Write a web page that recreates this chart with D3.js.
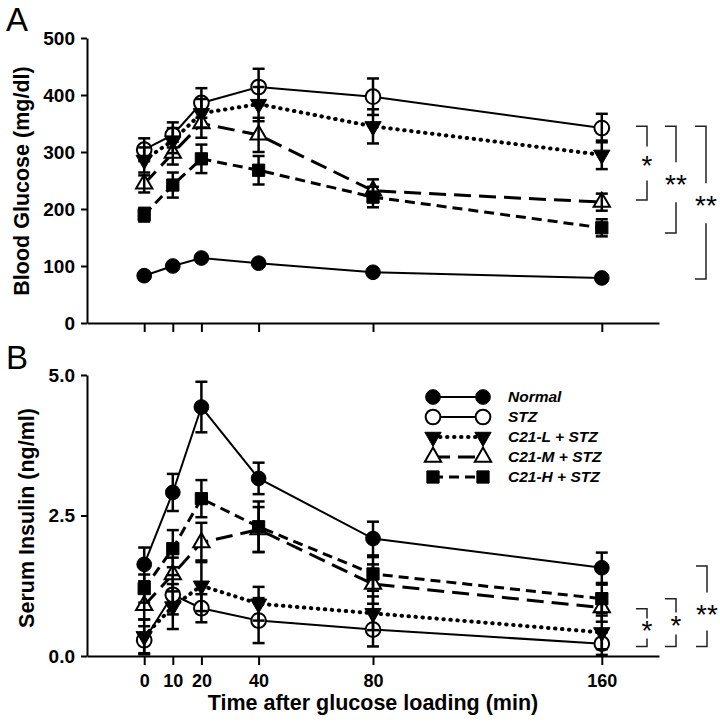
<!DOCTYPE html>
<html>
<head>
<meta charset="utf-8">
<script src="https://cdn.jsdelivr.net/npm/d3@7"></script>
<style>
  body { margin: 0; background: #fff; }
  text { font-family: "Liberation Sans", Arial, sans-serif; }
</style>
</head>
<body>
<div id="container"></div>
<script>
var width = 720, height = 723;

// time points (min)
var times = [0, 10, 20, 40, 80, 160];
var groups = ["Normal", "STZ", "C21-L + STZ", "C21-M + STZ", "C21-H + STZ"];

// panel A : blood glucose (mg/dl), mean and SEM
var glucoseNormal = [83, 100, 114, 105, 89, 79];
var glucoseNormalErr = [4, 4, 4, 4, 4, 4];
var glucoseSTZ = [304, 330, 386, 414, 397, 342];
var glucoseSTZErr = [20, 22, 26, 32, 32, 25];
var glucoseL = [286, 320, 368, 384, 345, 295];
var glucoseLErr = [22, 22, 25, 30, 30, 25];
var glucoseM = [244, 298, 350, 330, 232, 212];
var glucoseMErr = [15, 20, 25, 30, 20, 15];
var glucoseH = [190, 242, 288, 268, 221, 167];
var glucoseHErr = [12, 22, 25, 25, 18, 15];

// panel B : serum insulin (ng/ml), mean and SEM
var insulinNormal = [1.63, 2.91, 4.43, 3.16, 2.09, 1.57];
var insulinNormalErr = [0.3, 0.33, 0.45, 0.28, 0.3, 0.27];
var insulinSTZ = [0.28, 1.09, 0.85, 0.63, 0.47, 0.22];
var insulinSTZErr = [0.25, 0.35, 0.25, 0.4, 0.3, 0.2];
var insulinL = [0.35, 0.88, 1.25, 0.93, 0.76, 0.42];
var insulinLErr = [0.3, 0.4, 0.45, 0.3, 0.3, 0.3];
var insulinM = [0.9, 1.45, 2.02, 2.25, 1.28, 0.86];
var insulinMErr = [0.25, 0.3, 0.35, 0.4, 0.35, 0.25];
var insulinH = [1.2, 1.91, 2.8, 2.3, 1.46, 1.02];
var insulinHErr = [0.25, 0.33, 0.33, 0.45, 0.3, 0.25];

var glucoseTicks = [0, 100, 200, 300, 400, 500];
var insulinTicks = [0, 2.5, 5];

// significance brackets (top / bottom / label centre in data units)
var glucoseBrackets = [
  {top: 345, bottom: 216, mid: 280, label: "*", x: 647, gap: 34},
  {top: 345, bottom: 158, mid: 247, label: "**", x: 676, gap: 40},
  {top: 345, bottom: 77, mid: 210, label: "**", x: 706, gap: 40}
];
var insulinBrackets = [
  {top: 0.84, bottom: 0.17, mid: 0.49, label: "*", x: 647, gap: 20},
  {top: 1.02, bottom: 0.17, mid: 0.58, label: "*", x: 676, gap: 22},
  {top: 1.6, bottom: 0.17, mid: 0.79, label: "**", x: 707, gap: 38}
];

// style of each group
var markers = ["circle", "circle", "down", "up", "square"];
var filled = [true, false, true, false, true];
var dashes = [null, null, "0.5 6.5", "17 8", "10 6"];
var lineWidths = [2, 2, 4, 3, 3];

var svg = d3.select("#container").append("svg")
  .attr("width", width)
  .attr("height", height);

var x = d3.scaleLinear().domain([-20, 180]).range([87, 659]);

function symbolPath(type) {
  if (type == "circle") return d3.symbol(d3.symbolCircle, 170)();
  if (type == "square") return d3.symbol(d3.symbolSquare, 150)();
  return d3.symbol(d3.symbolTriangle, 115)();
}

function drawMarker(g, type, fill, cx, cy) {
  g.append("path")
    .attr("d", symbolPath(type))
    .attr("transform", "translate(" + cx + "," + cy + ")" + (type == "down" ? " rotate(180)" : ""))
    .attr("fill", fill ? "#000" : "#fff")
    .attr("stroke", "#000")
    .attr("stroke-width", fill ? 1 : 2);
}

function drawPanel(y, means, errs, yTicks, fmt, showX) {
  var g = svg.append("g");
  var x0 = x.range()[0], yBase = y.range()[0];

  // lines
  means.forEach(function(vals, i) {
    var line = d3.line().x(function(d, j) { return x(times[j]); }).y(function(d) { return y(d); });
    g.append("path")
      .attr("d", line(vals))
      .attr("fill", "none")
      .attr("stroke", "#000")
      .attr("stroke-width", lineWidths[i])
      .attr("stroke-linecap", dashes[i] == "0.5 6.5" ? "round" : "butt")
      .attr("stroke-dasharray", dashes[i]);
  });

  // markers
  means.forEach(function(vals, i) {
    vals.forEach(function(v, j) {
      drawMarker(g, markers[i], filled[i], x(times[j]), y(v));
    });
  });

  // error bars
  means.forEach(function(vals, i) {
    vals.forEach(function(v, j) {
      var cx = x(times[j]), hi = y(v + errs[i][j]), lo = y(Math.max(0, v - errs[i][j]));
      g.append("line").attr("x1", cx).attr("x2", cx).attr("y1", hi).attr("y2", lo)
        .attr("stroke", "#000").attr("stroke-width", 2.5);
      [hi, lo].forEach(function(yy) {
        g.append("line").attr("x1", cx - 6).attr("x2", cx + 6).attr("y1", yy).attr("y2", yy)
          .attr("stroke", "#000").attr("stroke-width", 2.5);
      });
    });
  });

  // axes
  var yAxis = g.append("g")
    .attr("transform", "translate(" + x0 + ",0)")
    .call(d3.axisLeft(y).tickValues(yTicks).tickFormat(d3.format(fmt)).tickSize(6).tickSizeOuter(0).tickPadding(6));
  var xAxis = g.append("g")
    .attr("transform", "translate(0," + yBase + ")")
    .call(d3.axisBottom(x).tickValues(times).tickSize(9).tickSizeOuter(0).tickPadding(9));
  if (!showX) xAxis.selectAll("text").remove();

  g.selectAll(".domain, .tick line").attr("stroke", "#000").attr("stroke-width", 2);
  g.selectAll(".tick text")
    .attr("fill", "#000")
    .style("font-weight", "bold")
    .style("font-family", "'Liberation Sans', Arial, sans-serif");
  yAxis.selectAll(".tick text").style("font-size", "19px");
  xAxis.selectAll(".tick text").style("font-size", "18px");
  return g;
}

function drawBrackets(y, list) {
  list.forEach(function(b) {
    var yt = y(b.top), yb = y(b.bottom), ym = y(b.mid);
    var p = d3.path();
    p.moveTo(b.x - 11, yt); p.lineTo(b.x, yt); p.lineTo(b.x, ym - b.gap / 2);
    p.moveTo(b.x, ym + b.gap / 2); p.lineTo(b.x, yb); p.lineTo(b.x - 11, yb);
    svg.append("path").attr("d", p.toString())
      .attr("fill", "none").attr("stroke", "#222").attr("stroke-width", 1.5);
    svg.append("text")
      .attr("x", b.x)
      .attr("y", ym + 12)
      .attr("text-anchor", "middle")
      .style("font-size", "28px")
      .text(b.label);
  });
}

// Panel A
var yA = d3.scaleLinear().domain([0, 500]).range([323, 38]);
drawPanel(yA,
  [glucoseNormal, glucoseSTZ, glucoseL, glucoseM, glucoseH],
  [glucoseNormalErr, glucoseSTZErr, glucoseLErr, glucoseMErr, glucoseHErr],
  glucoseTicks, "d", false);
drawBrackets(yA, glucoseBrackets);

// Panel B
var yB = d3.scaleLinear().domain([0, 5]).range([656, 375]);
drawPanel(yB,
  [insulinNormal, insulinSTZ, insulinL, insulinM, insulinH],
  [insulinNormalErr, insulinSTZErr, insulinLErr, insulinMErr, insulinHErr],
  insulinTicks, ".1f", true);
drawBrackets(yB, insulinBrackets);

// panel letters and titles
svg.append("text").attr("x", 6).attr("y", 31).style("font-size", "33px").text("A");
svg.append("text").attr("x", 6).attr("y", 369).style("font-size", "33px").text("B");

svg.append("text")
  .attr("transform", "translate(29,181) rotate(-90)")
  .attr("text-anchor", "middle")
  .style("font-size", "21.5px").style("font-weight", "bold")
  .text("Blood Glucose (mg/dl)");
svg.append("text")
  .attr("transform", "translate(34,518) rotate(-90)")
  .attr("text-anchor", "middle")
  .style("font-size", "21.5px").style("font-weight", "bold")
  .text("Serum Insulin (ng/ml)");
svg.append("text")
  .attr("x", 373).attr("y", 710)
  .attr("text-anchor", "middle")
  .style("font-size", "21.5px").style("font-weight", "bold")
  .text("Time after glucose loading (min)");

// legend
var legend = svg.append("g");
groups.forEach(function(name, i) {
  var ly = 397 + i * 20;
  legend.append("line")
    .attr("x1", 433).attr("x2", 483).attr("y1", ly).attr("y2", ly)
    .attr("stroke", "#000")
    .attr("stroke-width", lineWidths[i])
    .attr("stroke-linecap", dashes[i] == "0.5 6.5" ? "round" : "butt")
    .attr("stroke-dasharray", dashes[i]);
  drawMarker(legend, markers[i], filled[i], 433, ly);
  drawMarker(legend, markers[i], filled[i], 483, ly);
  legend.append("text")
    .attr("x", 508).attr("y", ly)
    .attr("dy", "0.35em")
    .style("font-size", "15.5px")
    .style("font-weight", "bold")
    .style("font-style", "italic")
    .text(name);
});
</script>
</body>
</html>
